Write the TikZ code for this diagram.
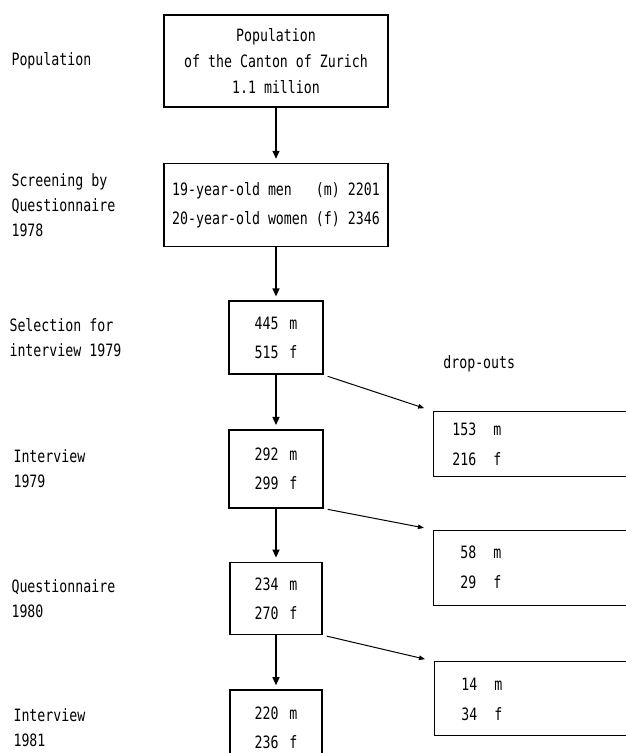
\documentclass[tikz,border=0pt]{standalone}
\usepackage{fontspec}
\setmainfont[FakeStretch=0.78]{DejaVu Sans Mono}
\usetikzlibrary{positioning,arrows.meta}

\begin{document}
\begin{tikzpicture}[
    x=1pt, y=1pt,
    box/.style={draw, line width=1.6pt, align=center, inner sep=0pt, font=\fontsize{17}{29}\selectfont},
    drop/.style={draw, line width=1.3pt, align=left, text width=180pt, inner xsep=19pt, inner ysep=0pt, font=\fontsize{17}{30}\selectfont},
    stage/.style={anchor=west, align=left, font=\fontsize{17}{25}\selectfont},
    arrow/.style={-{Triangle[length=8pt,width=7pt]}, line width=1.4pt, shorten >=4pt},
    droparrow/.style={-{Triangle[length=6pt,width=4.5pt]}, line width=1pt, shorten <=4pt, shorten >=9pt},
    node distance=54pt
]
\useasboundingbox (0,0) rectangle (625,753);

% Main column
\node[box, minimum width=224pt, minimum height=92pt, font=\fontsize{17}{26}\selectfont] (pop) at (276,692) {Population\\of the Canton of Zurich\\1.1 million};
\node[box, below=55pt of pop, minimum width=224pt, minimum height=83pt] (scr) {19-year-old men~~~(m) 2201\\20-year-old women (f) 2346};
\node[box, below=53pt of scr, minimum width=94pt, minimum height=73pt] (sel) {445\hspace{11pt}m\hspace{4pt}\\515\hspace{11pt}f\hspace{4pt}};
\node[box, below=54pt of sel, minimum width=94pt, minimum height=78pt] (int79) {292\hspace{11pt}m\hspace{4pt}\\299\hspace{11pt}f\hspace{4pt}};
\node[box, below=53pt of int79, minimum width=92pt, minimum height=72pt] (q80) {234\hspace{11pt}m\hspace{4pt}\\270\hspace{11pt}f\hspace{4pt}};
\node[box, below=54pt of q80, minimum width=92pt, minimum height=75pt] (int81) {220\hspace{11pt}m\hspace{4pt}\\236\hspace{11pt}f\hspace{4pt}};

% Drop-outs
\node[drop, below right=36pt and 109pt of sel.south east, minimum height=65pt] (drop1) {153\hspace{17pt}m\\216\hspace{17pt}f};
\node[drop, below right=21pt and 109pt of int79.south east, minimum height=75pt] (drop2) {\phantom{0}58\hspace{17pt}m\\\phantom{0}29\hspace{17pt}f};
\node[drop, below right=26pt and 111pt of q80.south east, minimum height=74pt] (drop3) {\phantom{0}14\hspace{17pt}m\\\phantom{0}34\hspace{17pt}f};
\node[above right=35pt and 7pt of drop1.north west, font=\fontsize{17}{20}\selectfont] (droplbl) {drop-outs};

% Stages
\node[stage] (lpop) at (8,0 |- pop.center) {Population};
\node[stage] (lscr) at (8,0 |- scr.center) {Screening by\\Questionnaire\\1978};
\node[stage] (lsel) at (6,0 |- sel.center) {Selection for\\interview 1979};
\node[stage] (lint79) at (10,0 |- int79.center) {Interview\\1979};
\node[stage] (lq80) at (8,0 |- q80.center) {Questionnaire\\1980};
\node[stage] (lint81) at (10,0 |- int81.center) {Interview\\1981};

% Arrows
\draw[arrow] (pop.south -| scr.center) -- (scr.north);
\draw[arrow] (scr) -- (sel);
\draw[arrow] (sel) -- (int79);
\draw[arrow] (int79) -- (q80);
\draw[arrow] (q80) -- (int81);
\draw[droparrow] (sel.south east) -- (drop1.north west);
\draw[droparrow] (int79.south east) -- (drop2.north west);
\draw[droparrow] (q80.south east) -- (drop3.north west);
\end{tikzpicture}
\end{document}
